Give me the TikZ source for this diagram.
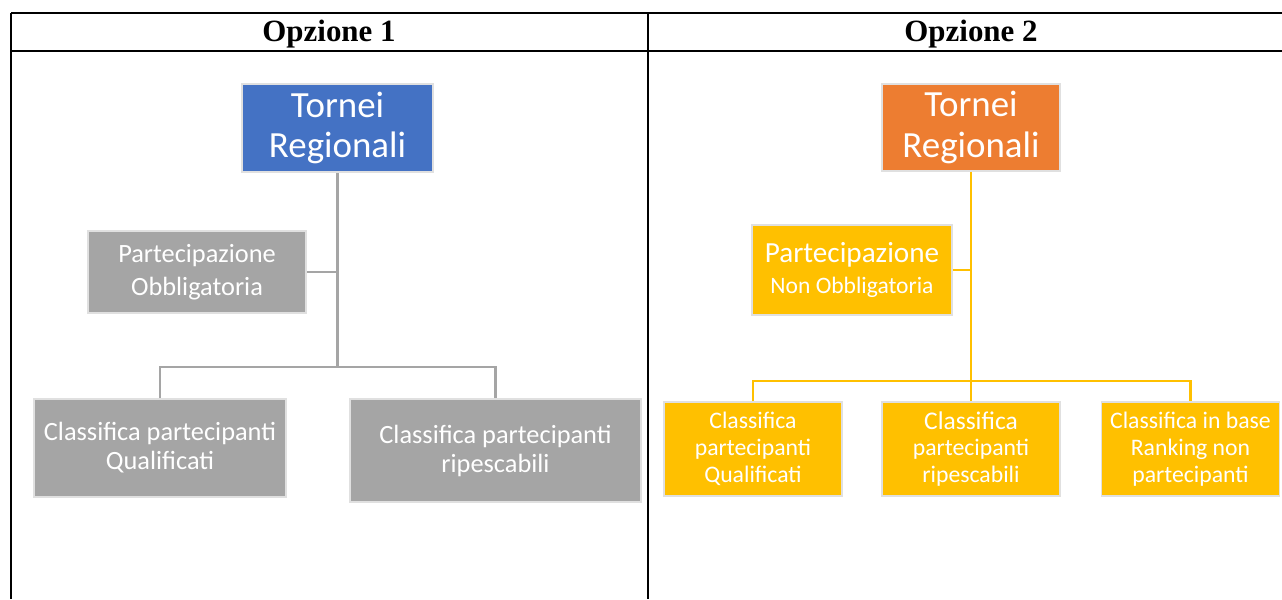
\documentclass[tikz,border=0pt]{standalone}
\usepackage{fontspec}
\setmainfont{Carlito}
\newfontfamily\headfont{Liberation Serif}
\usepackage{tikz}
\definecolor{boxblue}{HTML}{4472C4}
\definecolor{boxorange}{HTML}{ED7D31}
\definecolor{boxgrey}{HTML}{A5A5A5}
\definecolor{boxyellow}{HTML}{FFC000}
\tikzstyle{tableline}=[
        draw=black,
        line width=1.4pt
]
\tikzstyle{orgbox}=[
        draw=white!88!black,
        line width=1pt,
        inner sep=0pt,
        align=center,
        text=white
]
\tikzstyle{greyline}=[
        draw=boxgrey,
        line width=1.2pt
]
\tikzstyle{yellowline}=[
        draw=boxyellow,
        line width=1.2pt
]

\begin{document}
\begin{tikzpicture}[x=0.02cm,y=-0.02cm]
                        \useasboundingbox (0,0) rectangle (1282,599);

                        \draw[tableline] (11,13) -- (1282,13);
                        \draw[tableline] (11,51) -- (1282,51);
                        \draw[tableline] (11,13) -- (11,599);
                        \draw[tableline] (648,13) -- (648,599);

                        \node (h1) at (329,34) {\headfont\bfseries\fontsize{17.6}{20}\selectfont Opzione 1};
                        \node (h2) at (971,34) {\headfont\bfseries\fontsize{17.6}{20}\selectfont Opzione 2};

                        \node[orgbox,fill=boxblue,minimum width=3.82cm,minimum height=1.76cm,font=\fontsize{21}{23}\selectfont] (tr1) at (337.5,128) {Tornei\\Regionali};
                        \node[orgbox,fill=boxgrey,minimum width=4.36cm,minimum height=1.64cm,font=\fontsize{15}{18.7}\selectfont] (pa1) at (197,272) {Partecipazione\\Obbligatoria};
                        \node[orgbox,fill=boxgrey,minimum width=5.04cm,minimum height=1.96cm,font=\fontsize{15}{16.5}\selectfont] (cq1) at (160,448) {Classifica partecipanti\\Qualificati};
                        \node[orgbox,fill=boxgrey,minimum width=5.82cm,minimum height=2.06cm,font=\fontsize{15}{16.5}\selectfont] (cr1) at (495.5,450.5) {Classifica partecipanti\\ripescabili};

                        \coordinate (j1) at (337.5,367);
                        \draw[greyline] (tr1.south) -- (j1);
                        \draw[greyline] (pa1.east) -- (pa1.east -| j1);
                        \draw[greyline] (cq1.north) |- (j1) -| (cr1.north);

                        \node[orgbox,fill=boxorange,minimum width=3.56cm,minimum height=1.74cm,font=\fontsize{21}{23}\selectfont] (tr2) at (971,127.5) {Tornei\\Regionali};
                        \node[orgbox,fill=boxyellow,minimum width=4cm,minimum height=1.8cm,font=\fontsize{16.6}{18}\selectfont] (pa2) at (852,270) {Partecipazione\\\fontsize{13.4}{17}\selectfont Non Obbligatoria};
                        \node[orgbox,fill=boxyellow,minimum width=3.56cm,minimum height=1.88cm,font=\fontsize{13.5}{15.3}\selectfont] (cq2) at (753,449) {Classifica\\partecipanti\\Qualificati};
                        \node[orgbox,fill=boxyellow,minimum width=3.56cm,minimum height=1.88cm,font=\fontsize{13.5}{15.3}\selectfont] (cr2) at (971,449) {{\fontsize{14.5}{15.3}\selectfont Classifica}\\partecipanti\\ripescabili};
                        \node[orgbox,fill=boxyellow,minimum width=3.56cm,minimum height=1.88cm,font=\fontsize{13.5}{15.3}\selectfont] (cb2) at (1190.5,449) {Classifica in base\\Ranking non\\partecipanti};

                        \coordinate (j2) at (971,381);
                        \draw[yellowline] (tr2.south) -- (j2);
                        \draw[yellowline] (pa2.east) -- (pa2.east -| j2);
                        \draw[yellowline] (cr2.north) -- (j2);
                        \draw[yellowline] (cq2.north) |- (j2) -| (cb2.north);

                    \end{tikzpicture}
\end{document}
